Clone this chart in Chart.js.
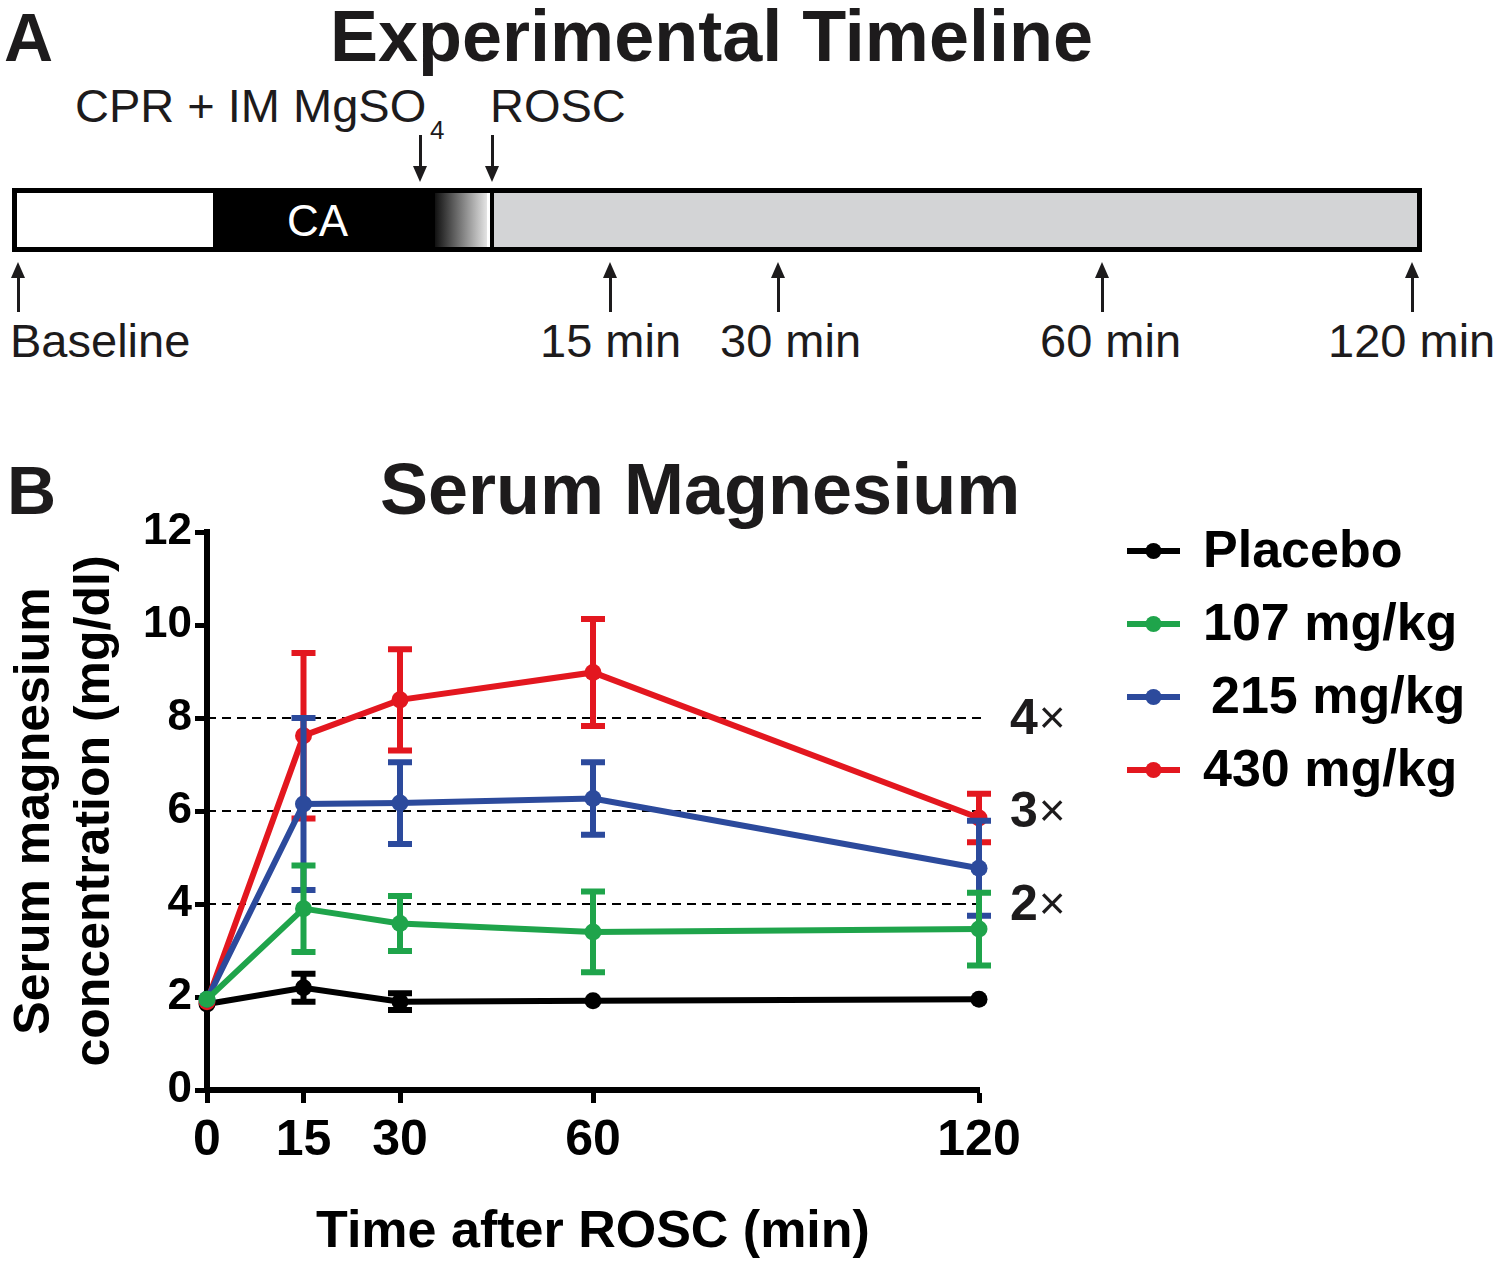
<!DOCTYPE html>
<html>
<head>
<meta charset="utf-8">
<script src="https://cdn.jsdelivr.net/npm/chart.js@4.4.1/dist/chart.umd.min.js"></script>
<style>
  body { margin: 0; background: #fff; }
  #page { position: relative; width: 1500px; height: 1264px; overflow: hidden; font-family: "Liberation Sans", Arial, sans-serif; color: #1d1b1c; }
  .t { position: absolute; white-space: nowrap; line-height: 1; }
  .bold { font-weight: bold; }
  .seg { position: absolute; }
  #chart-box { position: absolute; left: 0; top: 400px; width: 1500px; height: 864px; }
</style>
</head>
<body>
<div id="page">
  <div class="t bold" style="left:4px;top:3px;font-size:68px;">A</div>
  <div class="t bold" style="left:330px;top:0px;font-size:72px;">Experimental Timeline</div>
  <div class="t" style="left:75px;top:82px;font-size:47px;">CPR + IM MgSO</div>
  <div class="t" style="left:430px;top:117px;font-size:26px;">4</div>
  <div class="t" style="left:490px;top:82px;font-size:47px;">ROSC</div>

  <div class="seg" style="left:12px;top:188px;width:1410px;height:64px;background:#000;"></div>
  <div class="seg" style="left:17px;top:193px;width:196px;height:54px;background:#fff;"></div>
  <div class="seg" style="left:435px;top:193px;width:52px;height:54px;background:linear-gradient(to right,#111,#e4e4e4);"></div>
  <div class="seg" style="left:487px;top:193px;width:3px;height:54px;background:#fff;"></div>
  <div class="seg" style="left:494px;top:193px;width:923px;height:54px;background:#d3d4d6;"></div>
  <div class="t" style="left:287px;top:199px;font-size:44px;color:#fff;">CA</div>

  <div class="t" style="left:10px;top:317px;font-size:47px;">Baseline</div>
  <div class="t" style="left:540px;top:317px;font-size:47px;">15 min</div>
  <div class="t" style="left:720px;top:317px;font-size:47px;">30 min</div>
  <div class="t" style="left:1040px;top:317px;font-size:47px;">60 min</div>
  <div class="t" style="left:1328px;top:317px;font-size:47px;">120 min</div>

  <div class="t bold" style="left:7px;top:456px;font-size:68px;">B</div>
  <div class="t bold" style="left:380px;top:453px;font-size:72px;">Serum Magnesium</div>

  <div id="chart-box"><canvas id="mg-chart"></canvas></div>
</div>

<script>
// time after ROSC (min) and tick labels
const timePoints = [0, 15, 30, 60, 120];
const xTickLabels = ['0', '15', '30', '60', '120'];
const yTickValues = [0, 2, 4, 6, 8, 10, 12];

const seriesNames = ['Placebo', '107 mg/kg', '215 mg/kg', '430 mg/kg'];

// mean serum Mg (mg/dl) and error bar half-lengths
const placebo = [1.85, 2.2, 1.9, 1.92, 1.95];
const placeboErr = [0, 0.3, 0.18, 0, 0];
const mg107 = [1.95, 3.9, 3.58, 3.4, 3.46];
const mg107Err = [0, 0.93, 0.59, 0.87, 0.78];
const mg215 = [1.95, 6.15, 6.17, 6.27, 4.77];
const mg215Err = [0, 1.85, 0.88, 0.78, 1.02];
const mg430 = [1.9, 7.62, 8.39, 8.98, 5.85];
const mg430Err = [0, 1.78, 1.09, 1.15, 0.52];

// reference lines (fold over baseline)
const foldLevels = [8, 6, 4];
const foldLabels = ['4', '3', '2'];

const colors = ['#000000', '#1fa44b', '#2c4a9c', '#e3171f'];
const drawOrder = [3, 0, 1, 2];

// timeline arrows (panel A)
function arrow(x, y1, y2, up) {
  const page = document.getElementById('page');
  const shaft = document.createElement('div');
  shaft.className = 'seg';
  shaft.style.cssText = `left:${x - 1.5}px;top:${up ? y1 + 12 : y1}px;width:3px;height:${y2 - y1 - 12}px;background:#1d1b1c;`;
  const head = document.createElement('div');
  head.className = 'seg';
  head.style.cssText = up
    ? `left:${x - 7}px;top:${y1}px;width:0;height:0;border-left:7px solid transparent;border-right:7px solid transparent;border-bottom:16px solid #1d1b1c;`
    : `left:${x - 7}px;top:${y2 - 16}px;width:0;height:0;border-left:7px solid transparent;border-right:7px solid transparent;border-top:16px solid #1d1b1c;`;
  page.appendChild(shaft);
  page.appendChild(head);
}
arrow(420, 135, 182, false);
arrow(492, 135, 182, false);
[18, 610, 778, 1102, 1412].forEach(x => arrow(x, 262, 312, true));

const toPoints = vals => timePoints.map((t, i) => ({ x: t, y: vals[i] }));
const allMeans = [placebo, mg107, mg215, mg430];
const allErrs = [placeboErr, mg107Err, mg215Err, mg430Err];

const errorBars = {
  id: 'errorBars',
  afterDatasetDraw(chart, args) {
    const { ctx, scales: { x, y } } = chart;
    const errs = allErrs[args.index];
    const means = allMeans[args.index];
    ctx.save();
    ctx.strokeStyle = colors[args.index];
    ctx.lineWidth = 6;
    timePoints.forEach((t, i) => {
      if (!errs[i]) return;
      const px = x.getPixelForValue(t);
      const top = y.getPixelForValue(means[i] + errs[i]);
      const bot = y.getPixelForValue(means[i] - errs[i]);
      ctx.beginPath();
      ctx.moveTo(px, top); ctx.lineTo(px, bot);
      ctx.moveTo(px - 12, top); ctx.lineTo(px + 12, top);
      ctx.moveTo(px - 12, bot); ctx.lineTo(px + 12, bot);
      ctx.stroke();
    });
    ctx.restore();
  }
};

const foldLines = {
  id: 'foldLines',
  beforeDatasetsDraw(chart) {
    const { ctx, scales: { x, y } } = chart;
    ctx.save();
    ctx.strokeStyle = '#000';
    ctx.lineWidth = 2;
    ctx.setLineDash([9, 6]);
    foldLevels.forEach(v => {
      const py = y.getPixelForValue(v);
      ctx.beginPath();
      ctx.moveTo(x.getPixelForValue(0), py);
      ctx.lineTo(x.getPixelForValue(120) + 5, py);
      ctx.stroke();
    });
    ctx.restore();
  },
  afterDraw(chart) {
    const { ctx, scales: { x, y } } = chart;
    ctx.save();
    ctx.fillStyle = '#1d1b1c';
    ctx.textBaseline = 'middle';
    foldLevels.forEach((v, i) => {
      const py = y.getPixelForValue(v) + 2;
      const px = x.getPixelForValue(120) + 31;
      ctx.font = 'bold 50px "Liberation Sans"';
      ctx.fillText(foldLabels[i], px, py);
      const w = ctx.measureText(foldLabels[i]).width;
      ctx.font = '46px "Liberation Sans"';
      ctx.fillText('\u00d7', px + w + 1, py);
    });
    // legend
    ctx.font = 'bold 52px "Liberation Sans"';
    seriesNames.forEach((name, i) => {
      const cy = 151 + i * 73;
      ctx.strokeStyle = colors[i];
      ctx.fillStyle = colors[i];
      ctx.lineWidth = 6;
      ctx.beginPath();
      ctx.moveTo(1127, cy); ctx.lineTo(1180, cy);
      ctx.stroke();
      ctx.beginPath();
      ctx.arc(1153.5, cy, 8, 0, Math.PI * 2);
      ctx.fill();
      ctx.fillStyle = '#000';
      ctx.fillText(name, i === 2 ? 1211 : 1203, cy + 2);
    });
    ctx.restore();
  }
};

Chart.defaults.font.family = '"Liberation Sans", Arial, sans-serif';
Chart.defaults.color = '#000';

new Chart(document.getElementById('mg-chart'), {
  type: 'line',
  data: {
    datasets: seriesNames.map((name, i) => ({
      label: name,
      data: toPoints(allMeans[i]),
      borderColor: colors[i],
      backgroundColor: colors[i],
      borderWidth: 6,
      pointRadius: 8.5,
      pointBorderWidth: 0,
      pointBackgroundColor: colors[i],
      tension: 0,
      clip: false,
      order: drawOrder[i],
    })),
  },
  options: {
    responsive: true,
    maintainAspectRatio: false,
    animation: false,
    events: [],
    layout: { padding: { left: 0, right: 521, top: 132, bottom: 0 } },
    plugins: { legend: { display: false }, tooltip: { enabled: false }, title: { display: false } },
    scales: {
      x: {
        type: 'linear',
        min: 0,
        max: 120,
        afterBuildTicks: s => { s.ticks = timePoints.map(v => ({ value: v })); },
        afterFit: s => { s.height = 174; },
        ticks: {
          autoSkip: false,
          maxRotation: 0,
          padding: 8,
          font: { size: 50, weight: 'bold' },
          callback: (v) => xTickLabels[timePoints.indexOf(v)],
        },
        grid: { drawOnChartArea: false, drawTicks: true, tickLength: 13, tickWidth: 5, tickColor: '#000' },
        border: { display: true, color: '#000', width: 6 },
        title: { display: true, text: 'Time after ROSC (min)', font: { size: 52, weight: 'bold' }, padding: { top: 0, bottom: 0 } },
      },
      y: {
        min: 0,
        max: 12,
        afterBuildTicks: s => { s.ticks = yTickValues.map(v => ({ value: v })); },
        afterFit: s => { s.width = 207; },
        ticks: { padding: 3, font: { size: 44, weight: 'bold' } },
        grid: { drawOnChartArea: false, drawTicks: true, tickLength: 12, tickWidth: 5, tickColor: '#000' },
        border: { display: true, color: '#000', width: 6 },
        title: {
          display: true,
          text: ['Serum magnesium', 'concentration (mg/dl)'],
          font: { size: 50, weight: 'bold', lineHeight: 1.2 },
          padding: { top: 5, bottom: 0 },
        },
      },
    },
  },
  plugins: [errorBars, foldLines],
});
</script>
</body>
</html>
